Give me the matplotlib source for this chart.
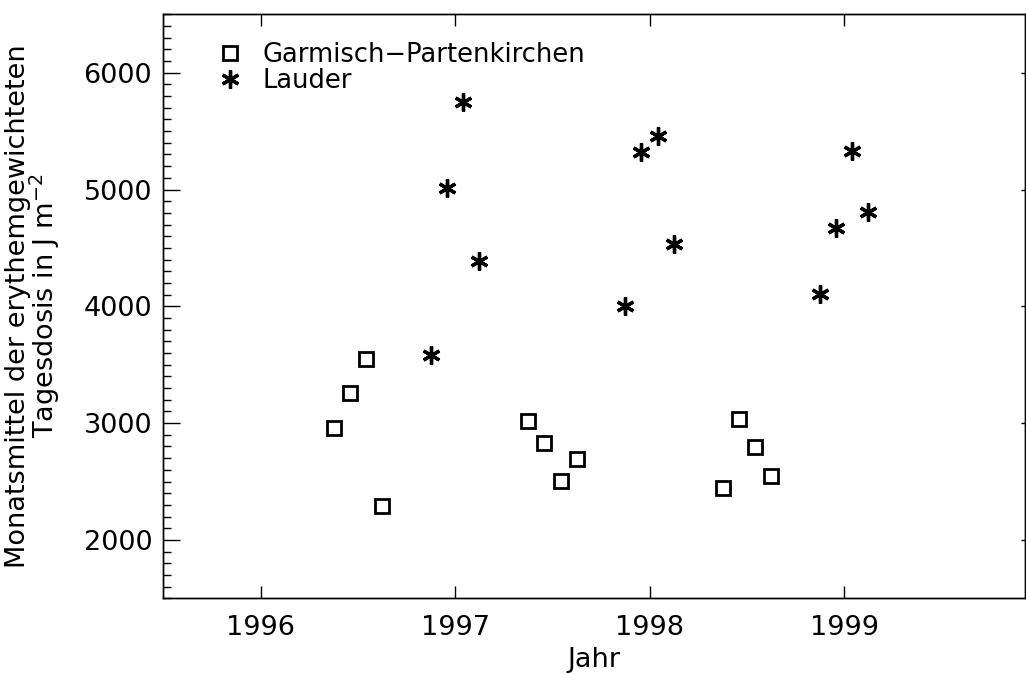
import matplotlib
matplotlib.use("Agg")
import matplotlib.pyplot as plt
from matplotlib.ticker import MultipleLocator

# monthly means, x = decimal year (month midpoints)
garmisch_x = [1996.375, 1996.458, 1996.542, 1996.625,
              1997.375, 1997.458, 1997.542, 1997.625,
              1998.375, 1998.458, 1998.542, 1998.625]
garmisch_y = [2958, 3255, 3546, 2291,
              3018, 2830, 2505, 2693,
              2447, 3035, 2798, 2547]

lauder_x = [1996.875, 1996.958, 1997.042, 1997.125,
            1997.875, 1997.958, 1998.042, 1998.125,
            1998.875, 1998.958, 1999.042, 1999.125]
lauder_y = [3585, 5014, 5749, 4385,
            4002, 5319, 5462, 4530,
            4104, 4672, 5330, 4808]

year_ticks = [1996, 1997, 1998, 1999]
dose_ticks = [2000, 3000, 4000, 5000, 6000]

plt.rcParams['font.family'] = ['DejaVu Sans']
fs = 19.5

fig = plt.figure(figsize=(10.26, 6.75), dpi=100)
ax = fig.add_axes([0.1592, 0.1136, 0.8398, 0.8652])

ax.plot(garmisch_x, garmisch_y, linestyle='none', marker='s', markersize=10,
        markerfacecolor='none', markeredgecolor='black', markeredgewidth=2,
        label='Garmisch\u2212Partenkirchen')
ax.plot(lauder_x, lauder_y, linestyle='none', marker=(6, 2, 0), markersize=13,
        markeredgecolor='black', markeredgewidth=2.4, label='Lauder')

ax.set_xlim(1995.5, 1999.93)
ax.set_ylim(1500, 6500)
ax.set_xticks(year_ticks)
ax.set_yticks(dose_ticks)
ax.yaxis.set_minor_locator(MultipleLocator(100))

ax.tick_params(axis='x', which='major', direction='in', length=8.5, width=1,
               top=True, bottom=True, labelsize=fs, pad=12)
ax.tick_params(axis='y', which='major', direction='in', length=12, width=1,
               left=True, right=False, labelsize=fs, pad=8)
ax.tick_params(axis='y', which='minor', direction='in', length=6, width=1,
               left=True, right=False)

ax2 = ax.twinx()
ax2.set_ylim(ax.get_ylim())
ax2.set_yticks(dose_ticks)
ax2.tick_params(axis='y', which='major', direction='in', length=3, width=1,
                labelright=False)

for a in (ax, ax2):
    for s in a.spines.values():
        s.set_linewidth(1)

ax.set_xlabel('Jahr', fontsize=fs, labelpad=4)
ax.set_ylabel('Monatsmittel der erythemgewichteten\nTagesdosis in J m$^{-2}$',
              fontsize=fs, linespacing=0.85)
ax.yaxis.set_label_coords(-0.118, 0.5)

ax.legend(loc='upper left', bbox_to_anchor=(0.047, 0.974), frameon=False,
          fontsize=18.5, handlelength=1.0, handletextpad=0.8, borderpad=0,
          labelspacing=0.0, numpoints=1)

fig.savefig('out.png', dpi=100)
